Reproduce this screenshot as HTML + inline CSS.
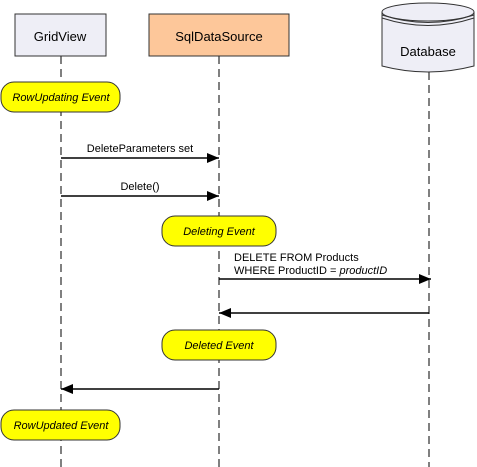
<html><body style="margin:0;background:#fff">
<svg width="477" height="467" xmlns="http://www.w3.org/2000/svg" font-family="Liberation Sans, sans-serif">
<defs><marker id="a" markerWidth="12" markerHeight="10" refX="12" refY="5" orient="auto" markerUnits="userSpaceOnUse"><path d="M0,0 L12,5 L0,10 z" fill="#000"/></marker></defs>
<g stroke="#000" stroke-dasharray="8,5" stroke-width="1">
<line x1="61" y1="56" x2="61" y2="467"/>
<line x1="219" y1="56" x2="219" y2="467"/>
<line x1="429" y1="72" x2="429" y2="467"/>
</g>
<rect x="15" y="14" width="91" height="42" fill="#eeeef6" stroke="#333"/>
<text x="60" y="41" font-size="13" text-anchor="middle">GridView</text>
<rect x="149" y="14" width="140" height="42" fill="#fdc79a" stroke="#333"/>
<text x="219" y="41" font-size="13" text-anchor="middle">SqlDataSource</text>
<path d="M382,12 L382,66 Q428,78 474,66 L474,12" fill="#eeeef6" stroke="#333"/>
<ellipse cx="428" cy="12" rx="46" ry="9" fill="#eeeef6" stroke="#333"/>
<path d="M382,15 Q428,30 474,15 M382,18 Q428,33 474,18" fill="none" stroke="#333"/>
<text x="428" y="56" font-size="13" text-anchor="middle">Database</text>
<g fill="#ffff00" stroke="#333">
<rect x="1" y="82" width="119" height="30" rx="13"/>
<rect x="162" y="216" width="114" height="30" rx="13"/>
<rect x="162" y="330" width="114" height="30" rx="13"/>
<rect x="1" y="410" width="119" height="30" rx="13"/>
</g>
<g font-size="11" font-style="italic" text-anchor="middle">
<text x="61" y="101">RowUpdating Event</text>
<text x="219" y="235">Deleting Event</text>
<text x="219" y="349">Deleted Event</text>
<text x="61" y="429">RowUpdated Event</text>
</g>
<g stroke="#000" stroke-width="1.5" marker-end="url(#a)">
<line x1="61" y1="158" x2="219" y2="158"/>
<line x1="61" y1="196" x2="219" y2="196"/>
<line x1="219" y1="279" x2="431" y2="279"/>
<line x1="429" y1="313" x2="219" y2="313"/>
<line x1="219" y1="389" x2="61" y2="389"/>
</g>
<g font-size="11">
<text x="140" y="152" text-anchor="middle">DeleteParameters set</text>
<text x="140" y="190" text-anchor="middle">Delete()</text>
<text x="234" y="261">DELETE FROM Products</text>
<text x="234" y="274">WHERE ProductID = <tspan font-style="italic">productID</tspan></text>
</g>
</svg>
</body></html>
